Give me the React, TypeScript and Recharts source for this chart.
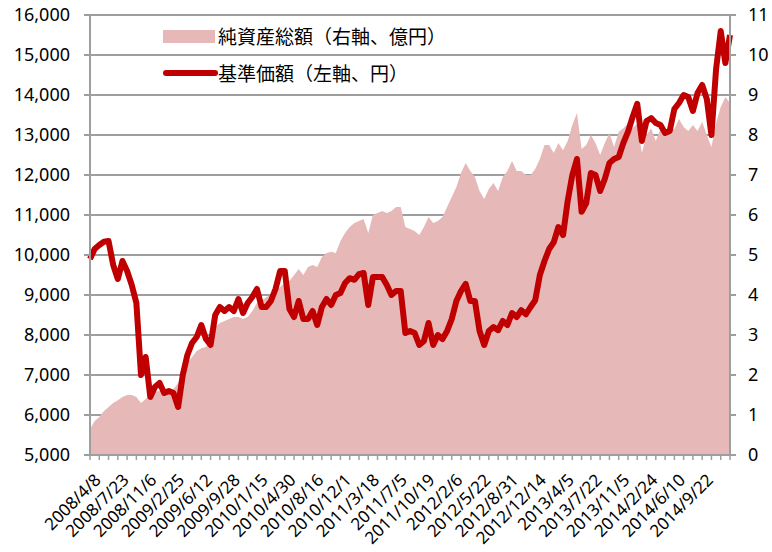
import React from 'react';
import { ComposedChart, Area, Line, XAxis, YAxis, CartesianGrid } from 'recharts';

// x-axis labels, one every 6 data points
const tickLabels = [
  '2008/4/8', '2008/7/23', '2008/11/6', '2009/2/25', '2009/6/12', '2009/9/28',
  '2010/1/15', '2010/4/30', '2010/8/16', '2010/12/1', '2011/3/18', '2011/7/5',
  '2011/10/19', '2012/2/6', '2012/5/22', '2012/8/31', '2012/12/14', '2013/4/5',
  '2013/7/22', '2013/11/5', '2014/2/24', '2014/6/10', '2014/9/22',
];

// 基準価額 (円, left axis)
const nav = [
  9900, 10150, 10250, 10330, 10350, 9750, 9400, 9850, 9600, 9250,
  8800, 7000, 7450, 6450, 6700, 6800, 6550, 6600, 6550, 6200,
  7000, 7500, 7800, 7950, 8250, 7900, 7750, 8500, 8700, 8600,
  8700, 8600, 8900, 8550, 8800, 8950, 9150, 8700, 8700, 8850,
  9150, 9600, 9600, 8650, 8450, 8850, 8400, 8400, 8600, 8250,
  8700, 8900, 8750, 9000, 9050, 9300, 9420, 9380, 9520, 9550,
  8750, 9450, 9450, 9450, 9250, 9000, 9100, 9100, 8050, 8100,
  8050, 7750, 7850, 8300, 7750, 8000, 7900, 8100, 8400, 8850,
  9100, 9280, 8850, 8850, 8100, 7750, 8100, 8200, 8120, 8350,
  8250, 8550, 8450, 8620, 8520, 8700, 8870, 9500, 9850, 10150,
  10320, 10700, 10500, 11350, 12000, 12400, 11080, 11300, 12050, 12000,
  11600, 11900, 12300, 12400, 12450, 12800, 13080, 13450, 13780, 12850,
  13350, 13420, 13300, 13250, 13050, 13100, 13650, 13800, 14000, 13950,
  13600, 14050, 14250, 13900, 13000, 14650, 15600, 14800, 15500,
];

// 純資産総額 (億円, right axis)
const assets = [
  0.65, 0.85, 0.95, 1.1, 1.2, 1.3, 1.37, 1.45, 1.5, 1.5,
  1.45, 1.3, 1.4, 1.5, 1.58, 1.6, 1.62, 1.6, 1.65, 1.8,
  2.1, 2.3, 2.45, 2.6, 2.67, 2.7, 2.9, 3.2, 3.3, 3.35,
  3.4, 3.45, 3.45, 3.4, 3.45, 3.6, 3.8, 3.85, 3.95, 4.0,
  4.1, 4.2, 4.3, 4.35, 4.5, 4.65, 4.5, 4.7, 4.75, 4.7,
  4.95, 5.05, 5.08, 5.05, 5.35, 5.55, 5.7, 5.8, 5.85, 5.9,
  5.55, 6.0, 6.05, 6.1, 6.05, 6.1, 6.2, 6.2, 5.7, 5.65,
  5.6, 5.5, 5.7, 5.95, 5.8, 5.85, 5.95, 6.2, 6.45, 6.7,
  7.05, 7.3, 7.1, 6.95, 6.6, 6.4, 6.65, 6.8, 6.6, 6.95,
  7.1, 7.35, 7.1, 7.1, 7.0, 7.0, 7.15, 7.4, 7.75, 7.75,
  7.55, 7.8, 7.62, 7.85, 8.25, 8.55, 7.65, 7.75, 8.0, 7.8,
  7.5, 7.8, 8.05, 7.7, 8.08, 8.17, 8.29, 8.17, 8.29, 7.55,
  8.0, 8.17, 7.85, 8.15, 8.0, 8.1, 8.15, 8.4, 8.2, 8.1,
  8.25, 8.1, 8.33, 8.0, 7.7, 8.3, 8.7, 8.95, 8.8,
];

const leftTicks = [5000, 6000, 7000, 8000, 9000, 10000, 11000, 12000, 13000, 14000, 15000, 16000];
const rightTicks = [0, 1, 2, 3, 4, 5, 6, 7, 8, 9, 10, 11];

const data = nav.map((v, i) => ({ i, nav: v, assets: assets[i] }));
const lastIndex = data.length - 1;
const minorTicks = data.filter((d) => d.i % 2 === 0).map((d) => d.i);

const FONT = "'Noto Sans', 'Noto Sans CJK JP', sans-serif";
const GRID = '#9e9e9e';

const XTick = (props: any) => {
  const { x, payload } = props;
  const idx = payload.value;
  if (idx % 6 !== 0) return <g />;
  const label = tickLabels[idx / 6];
  const ax = x + 12;
  const ay = 481;
  return (
    <text
      x={ax}
      y={ay}
      transform={`rotate(-45 ${ax} ${ay})`}
      textAnchor="end"
      fontSize={17}
      fontFamily={FONT}
      fill="#000"
    >
      {label}
    </text>
  );
};

export default function App() {
  return (
    <div style={{ position: 'absolute', left: 0, top: 0, width: 772, height: 552, background: '#fff' }}>
      <ComposedChart width={772} height={552} data={data} margin={{ top: 15, right: 0, bottom: 0, left: 0 }}>
        <CartesianGrid yAxisId="left" vertical={false} stroke={GRID} strokeWidth={2} />
        <XAxis
          type="number"
          dataKey="i"
          domain={[0, lastIndex]}
          ticks={minorTicks}
          interval={0}
          height={97}
          tick={<XTick />}
          tickSize={5}
          tickLine={{ stroke: GRID, strokeWidth: 1.5 }}
          axisLine={{ stroke: GRID, strokeWidth: 2 }}
        />
        <YAxis
          yAxisId="left"
          domain={[5000, 16000]}
          ticks={leftTicks}
          width={90}
          tickSize={6}
          tickMargin={14}
          tickFormatter={(v: number) => v.toLocaleString('en-US')}
          tick={{ fill: '#000', fontSize: 18, fontFamily: FONT }}
          tickLine={{ stroke: GRID, strokeWidth: 2 }}
          axisLine={{ stroke: GRID, strokeWidth: 2 }}
        />
        <YAxis
          yAxisId="right"
          orientation="right"
          domain={[0, 11]}
          ticks={rightTicks}
          width={42}
          tickSize={6}
          tickMargin={12}
          tick={{ fill: '#000', fontSize: 18, fontFamily: FONT, textAnchor: 'start' }}
          tickLine={{ stroke: GRID, strokeWidth: 2 }}
          axisLine={{ stroke: GRID, strokeWidth: 2 }}
        />
        <Area
          yAxisId="right"
          type="linear"
          dataKey="assets"
          stroke="none"
          fill="#E6B9B8"
          fillOpacity={1}
          isAnimationActive={false}
        />
        <Line
          yAxisId="left"
          type="linear"
          dataKey="nav"
          stroke="#C00000"
          strokeWidth={6}
          strokeLinejoin="round"
          dot={false}
          activeDot={false}
          isAnimationActive={false}
        />
      </ComposedChart>
      <div style={{ position: 'absolute', left: 163, top: 23, fontFamily: FONT, fontSize: 19, color: '#000' }}>
        <div style={{ display: 'flex', alignItems: 'center', height: 26 }}>
          <span style={{ display: 'inline-block', width: 52, height: 13, background: '#E6B9B8', marginRight: 3 }} />
          <span>純資産総額（右軸、億円）</span>
        </div>
        <div style={{ display: 'flex', alignItems: 'center', height: 26, marginTop: 11 }}>
          <span style={{ display: 'inline-block', width: 55, height: 6, borderRadius: 3, background: '#C00000', marginRight: 0 }} />
          <span>基準価額（左軸、円）</span>
        </div>
      </div>
    </div>
  );
}
